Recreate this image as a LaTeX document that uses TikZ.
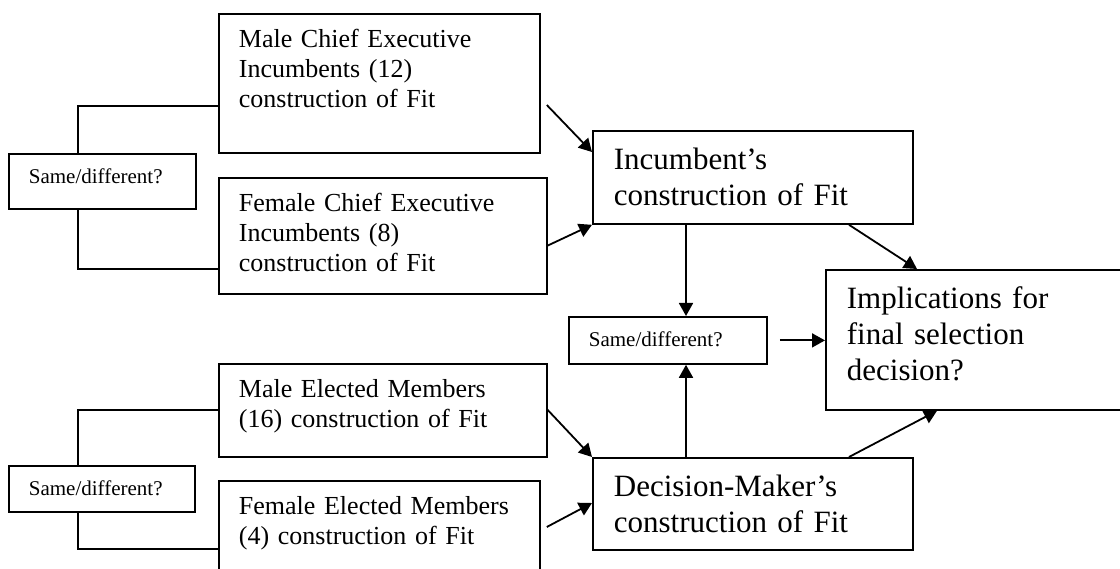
\documentclass[tikz,border=0pt]{standalone}
\usepackage{fontspec}
\setmainfont{Liberation Serif}
\usetikzlibrary{arrows.meta, calc}

\begin{document}
\begin{tikzpicture}[
    x=1pt, y=-1pt, >={Triangle[length=13pt, width=14pt]},
    box/.style={draw, line width=1.8pt, anchor=north west,
                inner xsep=20pt, inner ysep=0pt, align=left},
    sdbox/.style={box, font=\fontsize{21pt}{25pt}\selectfont,
                  text height=30pt},
    fitbox/.style={box, font=\fontsize{26pt}{30pt}\selectfont,
                   text height=34pt},
    bigbox/.style={box, inner xsep=21pt,
                   font=\fontsize{31pt}{36pt}\selectfont, text height=39pt},
    wire/.style={line width=1.8pt},
    link/.style={->, line width=1.8pt}
  ]
  \useasboundingbox (0,0) rectangle (1120,569);
  \clip (0,0) rectangle (1120,569);

  % left column: the four groups
  \node[fitbox, text width=281pt, text depth=105pt] (mce) at (218,13)
    {Male Chief Executive\\Incumbents (12)\\construction of Fit};
  \node[fitbox, text width=288pt, text depth=82pt] (fce) at (218,177)
    {Female Chief Executive\\Incumbents (8)\\construction of Fit};
  \node[fitbox, text width=288pt, text depth=59pt] (mem) at (218,363)
    {Male Elected Members\\(16) construction of Fit};
  \node[fitbox, text width=281pt, text depth=76pt] (fem) at (218,480)
    {Female Elected Members\\(4) construction of Fit};

  \node[sdbox, text width=147pt, text depth=25pt] (sdtop) at (8,153)
    {Same/different?};
  \node[sdbox, text width=146pt, text depth=16pt] (sdbot) at (8,465)
    {Same/different?};

  % middle and right
  \node[bigbox, text width=278pt, text depth=54pt] (inc) at (592,130)
    {Incumbent’s\\construction of Fit};
  \node[bigbox, text width=278pt, text depth=53pt] (dm) at (592,457)
    {Decision-Maker’s\\construction of Fit};
  \node[sdbox, text width=158pt, text depth=17pt] (sdmid) at (568,316)
    {Same/different?};
  \node[bigbox, text width=270pt, text depth=101pt] (impl) at (825,269)
    {Implications for\\final selection\\decision?};

  % brackets
  \draw[wire] ($(mce.north west)+(0,93)$) -| ($(sdtop.north west)+(70,0)$);
  \draw[wire] ($(sdtop.south west)+(70,0)$) |- ($(fce.north west)+(0,92)$);
  \draw[wire] ($(mem.north west)+(0,47)$) -| ($(sdbot.north west)+(70,0)$);
  \draw[wire] ($(sdbot.south west)+(70,0)$) |- ($(fem.north west)+(0,69)$);

  % arrows
  \draw[link] ($(mce.north east)+(6,92)$) -- ($(inc.north west)+(0,22)$);
  \draw[link] ($(fce.north east)+(-1,69)$) -- (inc.south west);
  \draw[link] ($(mem.north east)+(-1,46)$) -- (dm.north west);
  \draw[link] ($(fem.north east)+(6,47)$) -- ($(dm.north west)+(0,46)$);
  \draw[link] ($(inc.south west)+(94,0)$) coordinate (incfoot)
    -- (incfoot |- sdmid.north);
  \draw[link] ($(dm.north west)+(94,0)$) coordinate (dmhead)
    -- (dmhead |- sdmid.south);
  \draw[link] ($(sdmid.east)+(12,0)$) -- (sdmid.east -| impl.west);
  \draw[link] ($(inc.south west)+(257,0)$) -- ($(impl.north west)+(92,0)$);
  \draw[link] ($(dm.north west)+(257,0)$) -- ($(impl.south west)+(112,0)$);
\end{tikzpicture}
\end{document}
